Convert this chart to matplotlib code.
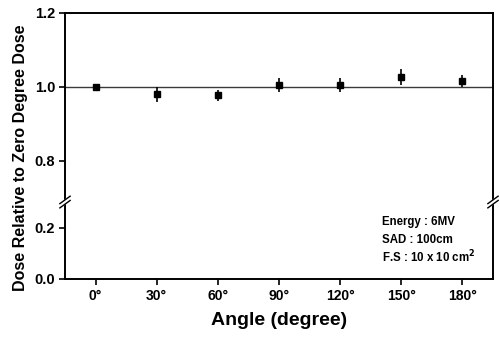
import matplotlib
matplotlib.use('Agg')
import matplotlib.pyplot as plt
import numpy as np

plt.rcParams['font.family'] = ['Liberation Sans', 'DejaVu Sans']

# data
angles = [0, 30, 60, 90, 120, 150, 180]
dose = [1.000, 0.980, 0.978, 1.006, 1.006, 1.027, 1.016]
err = [0.003, 0.020, 0.015, 0.019, 0.019, 0.021, 0.017]
xtick_labels = ['0°', '30°', '60°', '90°', '120°', '150°', '180°']
ytick_vals = [0.0, 0.2, 0.8, 1.0, 1.2]
info_lines = ['Energy : 6MV', 'SAD : 100cm', 'F.S : 10 x 10 cm$^\\mathbf{2}$']

# broken y axis: lower part 0-0.3 squeezed, upper part 0.69-1.2 stretched
y_pts = np.array([-1.0, 0.0, 0.3, 0.69, 2.0])
p_pts = np.array([-255.0, 0.0, 76.5, 77.3, 118 + 1.2 * 370])


def fwd(y):
    return np.interp(y, y_pts, p_pts)


def inv(p):
    return np.interp(p, p_pts, y_pts)


fig = plt.figure(figsize=(5, 3.41), dpi=100)
ax = fig.add_axes([0.13, 0.182, 0.856, 0.78])
ax.set_yscale('function', functions=(fwd, inv))

ax.axhline(1.0, color='#3a3a3a', linewidth=1.0, zorder=1)
ax.errorbar(angles, dose, yerr=err, fmt='s', color='black', markersize=4,
            elinewidth=1.2, capsize=0, zorder=3)

ax.set_xlim(-15, 195)
ax.set_ylim(0, 1.2)
ax.set_xticks(angles)
ax.set_xticklabels(xtick_labels, fontsize=10, fontweight='bold')
ax.set_yticks(ytick_vals)
ax.set_yticklabels(['%.1f' % v for v in ytick_vals], fontsize=10.5, fontweight='bold')
ax.minorticks_off()
ax.tick_params(direction='out', length=4, width=1.2, pad=3)

for s in ax.spines.values():
    s.set_linewidth(1.4)

ax.set_xlabel('Angle (degree)', fontsize=14, fontweight='bold', labelpad=7)
ax.set_ylabel('Dose Relative to Zero Degree Dose', fontsize=11.5, fontweight='bold')
ax.yaxis.set_label_coords(-0.087, 0.455)

# break marks on both spines
yb = ax.transAxes.inverted().transform(ax.transData.transform((0, 0.5)))[1]
for xa in (0, 1):
    ax.plot([xa - 0.003, xa + 0.003], [yb - 0.004, yb + 0.004], color='white',
            linewidth=3, transform=ax.transAxes, clip_on=False, zorder=5)
    for dy in (-0.008, 0.008):
        ax.plot([xa - 0.012, xa + 0.012], [yb + dy - 0.014, yb + dy + 0.014],
                color='black', linewidth=1.0, transform=ax.transAxes,
                clip_on=False, zorder=6)

for i, line in enumerate(info_lines):
    ax.text(0.74, 0.214 - i * 0.066, line, transform=ax.transAxes,
            fontsize=8.3, fontweight='bold', va='center', ha='left')

fig.savefig('out.png', dpi=100)
